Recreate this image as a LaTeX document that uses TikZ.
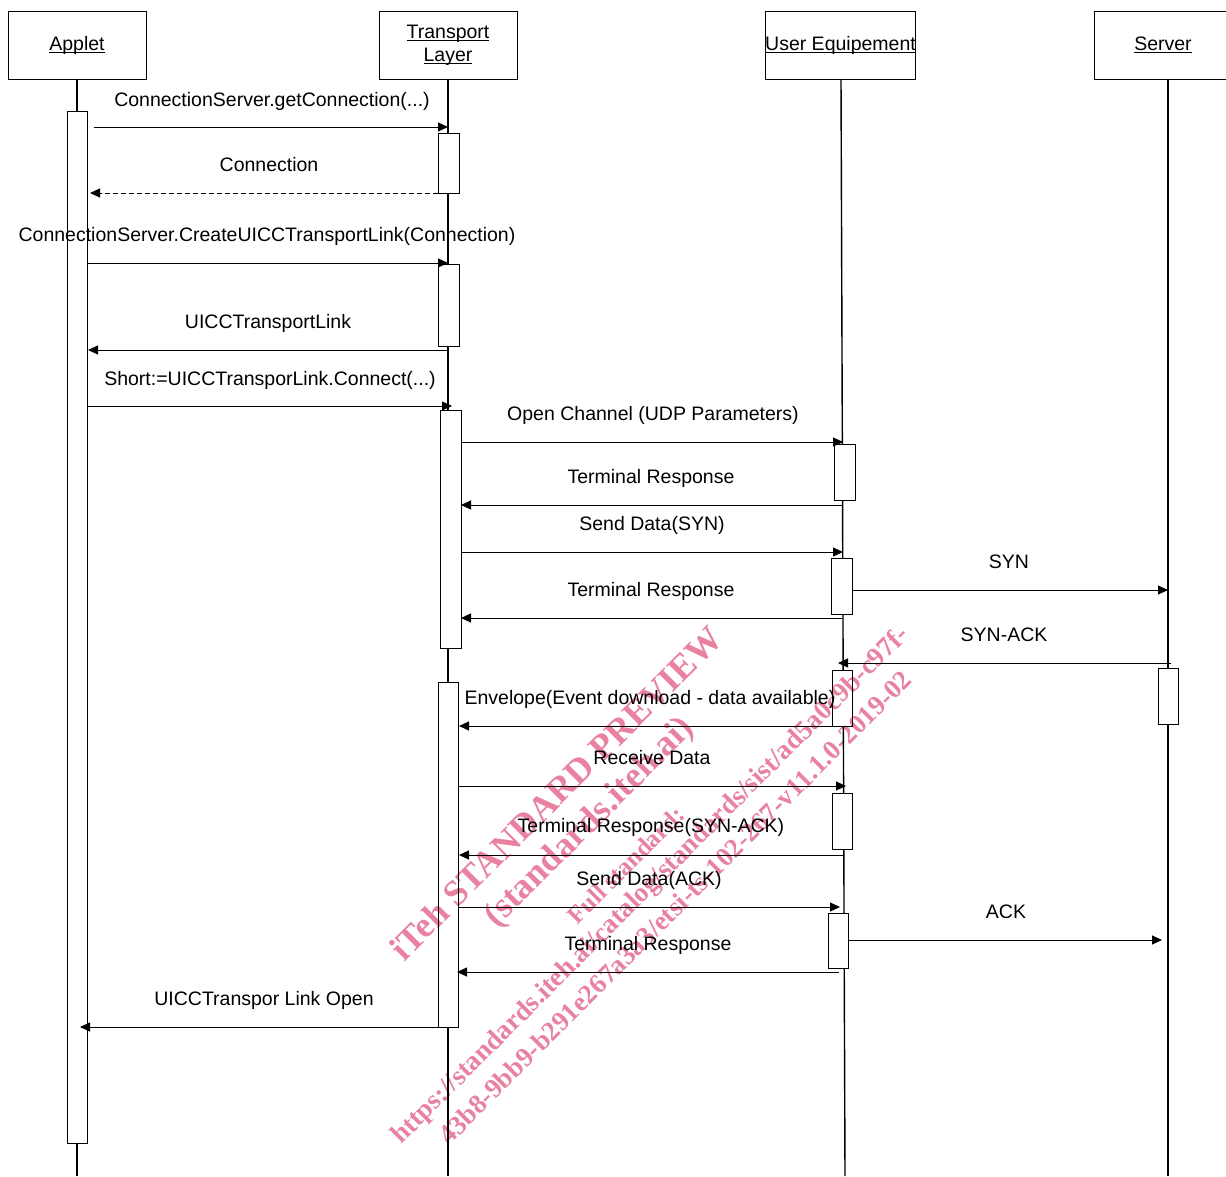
\documentclass[tikz,border=0pt]{standalone}
\usepackage{fontspec}
\setmainfont{Liberation Sans}
\newfontfamily\wmfont{Liberation Serif}
\usetikzlibrary{arrows.meta}
\definecolor{wmpink}{RGB}{232,130,160}
\newcommand\hul[1]{\setbox0\hbox{#1}\rlap{\rule[-2.6pt]{\wd0}{0.9pt}}\box0}
\newcommand\lbl[4]{\node[lab] (#1) at (#2,{#3+7}) {#4};}
\newcommand\msg[6]{%
  \coordinate (#1a) at (#2,#4);
  \coordinate (#1b) at (#3,#4);
  \draw[msgline,#5] (#1a) -- (#1b);}
\tikzset{
  lab/.style={anchor=base, inner sep=0pt, font=\fontsize{19.5}{23}\selectfont},
  headbox/.style={draw, line width=0.9pt, minimum height=68pt, inner sep=0pt, align=center,
    font=\fontsize{19.5}{23}\selectfont},
  act/.style={draw, fill=white, line width=0.9pt, inner sep=0pt},
  life/.style={line width=1.4pt},
  msgline/.style={line width=1pt, -{Triangle[length=10pt,width=9pt]}},
  wm/.style={text=wmpink, rotate=45, inner sep=0pt, font=\wmfont\bfseries}
}
\begin{document}
\begin{tikzpicture}[x=1pt,y=-1pt]
\useasboundingbox (0,0) rectangle (1226,1176);
% headers
\node[headbox, minimum width=138pt] (applet) at (77,45) {\hul{Applet}};
\node[headbox, minimum width=138pt] (tl) at (448,45) {\hul{Transport}\\\hul{Layer}};
\node[headbox, minimum width=149pt] (ue) at (840.5,45) {\hul{User Equipement}};
\node[headbox, minimum width=138pt] (srv) at (1163,45) {\hul{Server}};
% lifelines
\coordinate (appletEnd) at (77,1176);
\coordinate (tlEnd) at (448,1176);
\coordinate (ueTop) at (841,79);
\coordinate (ueEnd) at (845,1176);
\coordinate (srvTop) at (1168,79);
\coordinate (srvEnd) at (1168,1176);
\draw[life] (applet.south) -- (appletEnd);
\draw[life] (tl.south) -- (tlEnd);
\draw[life] (ueTop) -- (ueEnd);
\draw[life] (srvTop) -- (srvEnd);
% activation boxes
\node[act, minimum width=20pt, minimum height=1032pt] (aA) at (77,627) {};
\node[act, minimum width=21pt, minimum height=60pt] (t1) at (448.5,163) {};
\node[act, minimum width=21pt, minimum height=82pt] (t2) at (448.5,305) {};
\node[act, minimum width=21pt, minimum height=238pt] (t3) at (450.5,529) {};
\node[act, minimum width=20pt, minimum height=345pt] (t4) at (448,854.5) {};
\node[act, minimum width=21pt, minimum height=56pt] (u1) at (844.5,472) {};
\node[act, minimum width=21pt, minimum height=56pt] (u2) at (841.5,586) {};
\node[act, minimum width=20pt, minimum height=56pt] (u3) at (842,698) {};
\node[act, minimum width=20pt, minimum height=56pt] (u4) at (842,821) {};
\node[act, minimum width=20pt, minimum height=55pt] (u5) at (838,940.5) {};
\node[act, minimum width=20pt, minimum height=56pt] (s1) at (1168,696) {};
% messages
\msg{m1}{94}{448}{127}{}{}
\msg{m2}{438}{90}{193}{dash pattern=on 5pt off 3pt}{}
\msg{m3}{87}{448}{263}{}{}
\msg{m4}{448}{88}{350}{}{}
\msg{m5}{87}{452}{406}{}{}
\msg{m6}{462}{843}{442}{}{}
\msg{m7}{842}{461}{505}{}{}
\msg{m8}{461}{843}{552}{}{}
\msg{m9}{852}{1168}{590}{}{}
\msg{m10}{842}{461}{618}{}{}
\msg{m11}{1171}{838}{663}{}{}
\msg{m12}{852}{459}{726}{}{}
\msg{m13}{458}{846}{786}{}{}
\msg{m14}{844}{459}{855}{}{}
\msg{m15}{458}{840}{907}{}{}
\msg{m16}{848}{1162}{940}{}{}
\msg{m17}{839}{457}{972}{}{}
\msg{m18}{438}{80}{1027}{}{}
% labels
\lbl{l1}{272}{99}{ConnectionServer.getConnection(...)}
\lbl{l2}{269}{164}{Connection}
\lbl{l3}{267}{234}{ConnectionServer.CreateUICCTransportLink(Connection)}
\lbl{l4}{268}{321}{UICCTransportLink}
\lbl{l5}{270}{378}{Short:=UICCTransporLink.Connect(...)}
\lbl{l6}{653}{413}{Open Channel (UDP Parameters)}
\lbl{l7}{651}{476}{Terminal Response}
\lbl{l8}{652}{523}{Send Data(SYN)}
\lbl{l9}{1009}{561}{SYN}
\lbl{l10}{651}{589}{Terminal Response}
\lbl{l11}{1004}{634}{SYN-ACK}
\lbl{l12}{650}{697}{Envelope(Event download - data available)}
\lbl{l13}{652}{757}{Receive Data}
\lbl{l14}{651}{825}{Terminal Response(SYN-ACK)}
\lbl{l15}{649}{878}{Send Data(ACK)}
\lbl{l16}{1006}{911}{ACK}
\lbl{l17}{648}{943}{Terminal Response}
\lbl{l18}{264}{998}{UICCTranspor Link Open}
% watermark
\begin{scope}[blend mode=multiply]
\node[wm, font=\wmfont\bfseries\fontsize{36}{40}\selectfont] (w1) at (556,793) {iTeh STANDARD PREVIEW};
\node[wm, font=\wmfont\bfseries\fontsize{36}{40}\selectfont] (w2) at (590,823) {(standards.iteh.ai)};
\node[wm, font=\wmfont\bfseries\fontsize{25}{30}\selectfont] (w3) at (626,865) {Full standard:};
\node[wm, font=\wmfont\bfseries\fontsize{27.2}{30}\selectfont] (w4) at (651,886) {https://standards.iteh.ai/catalog/standards/sist/ad5a0c9b-c97f-};
\node[wm, font=\wmfont\bfseries\fontsize{27.1}{30}\selectfont] (w5) at (675,907) {43b8-9bb9-b291e267a3a3/etsi-ts-102-267-v11.1.0-2019-02};
\end{scope}
\end{tikzpicture}
\end{document}
